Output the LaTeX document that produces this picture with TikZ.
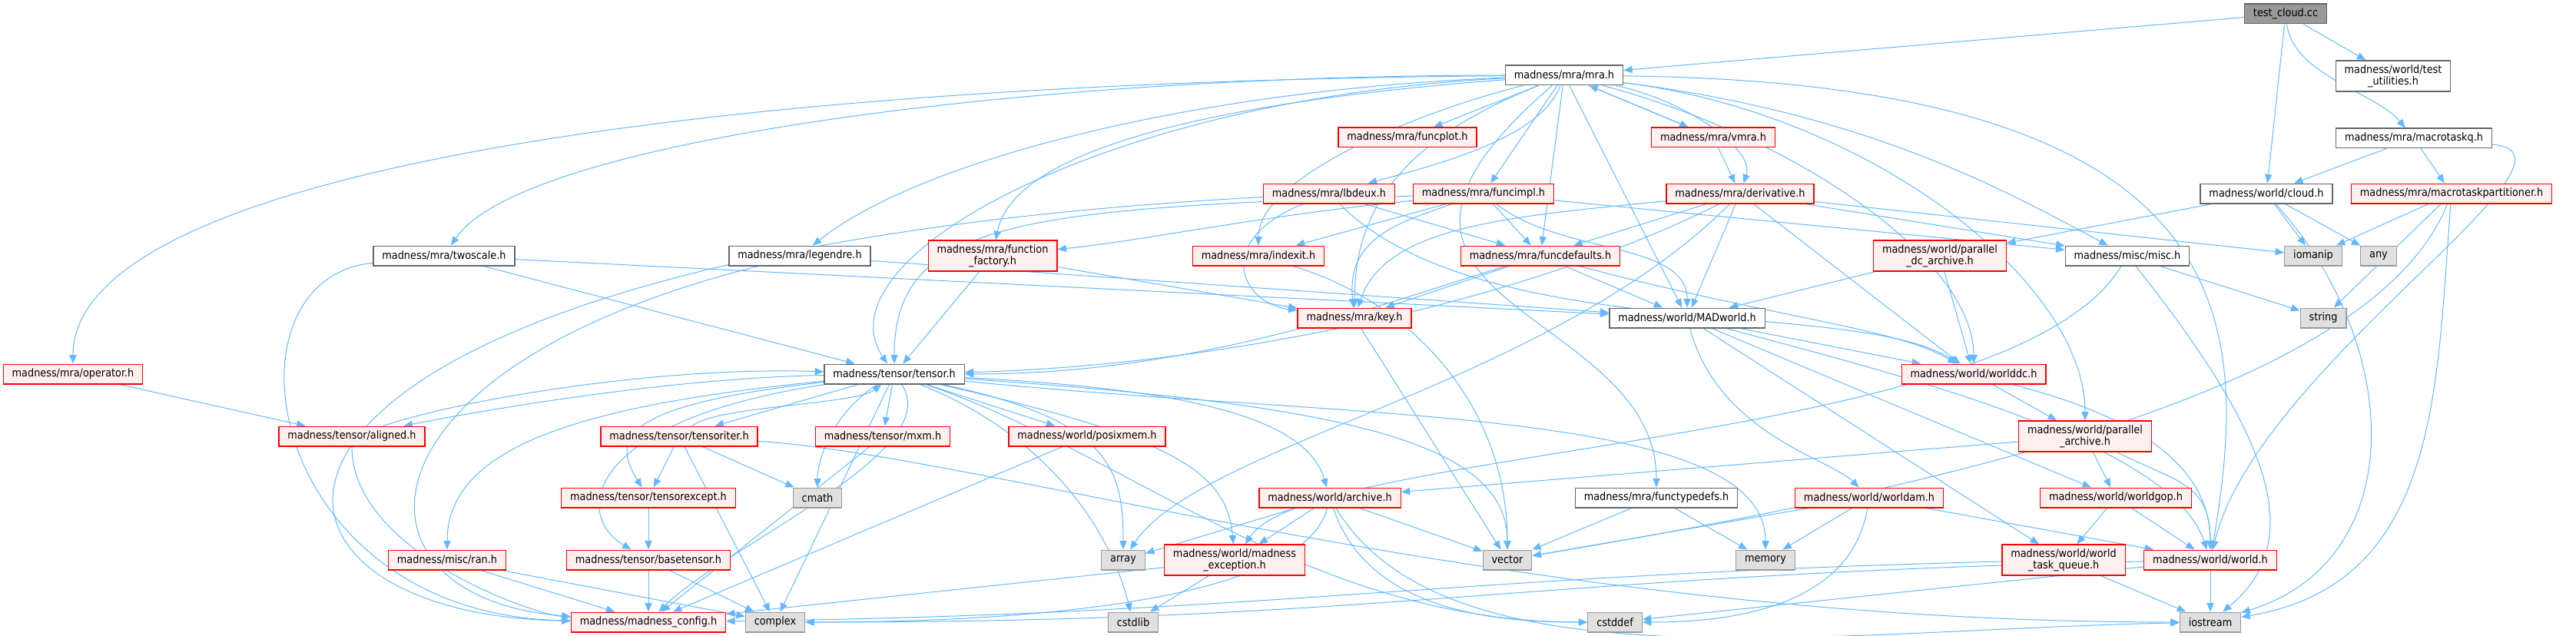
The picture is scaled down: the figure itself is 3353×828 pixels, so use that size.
\documentclass[tikz,border=0pt]{standalone}
\usepackage{fontspec}
\setmainfont{DejaVu Sans Condensed}
\usetikzlibrary{arrows.meta,backgrounds}
\definecolor{edgeblue}{RGB}{99,184,255}
\definecolor{truncfill}{RGB}{255,240,240}
\definecolor{sysfill}{RGB}{224,224,224}

\begin{document}
\begin{tikzpicture}[x=0.7pt, y=-0.7pt, font=\fontsize{10}{10.5}\selectfont,
      hdr/.style={draw=black!60, fill=white, line width=0.9pt, align=center,
                  minimum height=18pt, inner xsep=8pt, inner ysep=2pt},
      trunc/.style={hdr, draw=red, fill=truncfill},
      sys/.style={hdr, draw=black!40, fill=sysfill},
      root/.style={hdr, fill=black!40},
      two/.style={minimum height=28pt},
      arr/.style={-{Triangle[length=8pt, width=6.5pt]}, edgeblue, line width=0.7pt}]
    \useasboundingbox (0,0) rectangle (3353,828);
    % top rows
    \node[root] (testcloud) at (2975, 18) {test\_cloud.cc};
    \node[hdr] (mra) at (2036, 98) {madness/mra/mra.h};
    \node[hdr, two] (testutil) at (3115, 99) {madness/world/test\\\_utilities.h};
    \node[trunc] (funcplot) at (1832, 179) {madness/mra/funcplot.h};
    \node[trunc] (vmra) at (2230, 179) {madness/mra/vmra.h};
    \node[hdr] (macrotaskq) at (3142, 180) {madness/mra/macrotaskq.h};
    \node[trunc] (lbdeux) at (1730, 252) {madness/mra/lbdeux.h};
    \node[trunc] (funcimpl) at (1931, 252) {madness/mra/funcimpl.h};
    \node[trunc] (deriv) at (2265, 252) {madness/mra/derivative.h};
    \node[hdr] (cloud) at (2950, 252) {madness/world/cloud.h};
    \node[trunc] (mtpart) at (3191, 252) {madness/mra/macrotaskpartitioner.h};
    \node[hdr] (twoscale) at (578, 333) {madness/mra/twoscale.h};
    \node[hdr] (legendre) at (1041, 333) {madness/mra/legendre.h};
    \node[trunc, two] (funcfactory) at (1292, 333) {madness/mra/function\\\_factory.h};
    \node[trunc] (indexit) at (1638, 333) {madness/mra/indexit.h};
    \node[trunc] (funcdefaults) at (2005, 333) {madness/mra/funcdefaults.h};
    \node[trunc, two] (pdcarchive) at (2525, 333) {madness/world/parallel\\\_dc\_archive.h};
    \node[hdr] (misc) at (2769, 333) {madness/misc/misc.h};
    \node[sys] (iomanip) at (3011, 333) {iomanip};
    \node[sys] (any) at (3096, 333) {any};
    \node[trunc] (keyh) at (1763, 414) {madness/mra/key.h};
    \node[hdr] (madworld) at (2196, 414) {madness/world/MADworld.h};
    \node[sys] (stringh) at (3024, 414) {string};
    % tensor rows
    \node[trunc] (operatorh) at (95, 487) {madness/mra/operator.h};
    \node[hdr] (tensor) at (1164, 487) {madness/tensor/tensor.h};
    \node[trunc] (worlddc) at (2569, 487) {madness/world/worlddc.h};
    \node[trunc] (aligned) at (458, 568) {madness/tensor/aligned.h};
    \node[trunc] (tensoriter) at (884, 568) {madness/tensor/tensoriter.h};
    \node[trunc] (mxm) at (1149, 568) {madness/tensor/mxm.h};
    \node[trunc] (posixmem) at (1415, 568) {madness/world/posixmem.h};
    \node[trunc, two] (parchive) at (2714, 568) {madness/world/parallel\\\_archive.h};
    \node[trunc] (tensorexcept) at (844, 648) {madness/tensor/tensorexcept.h};
    \node[sys] (cmath) at (1064, 648) {cmath};
    \node[trunc] (archive) at (1731, 648) {madness/world/archive.h};
    \node[hdr] (functypedefs) at (2156, 648) {madness/mra/functypedefs.h};
    \node[trunc] (worldam) at (2433, 648) {madness/world/worldam.h};
    \node[trunc] (worldgop) at (2754, 648) {madness/world/worldgop.h};
    \node[trunc] (ran) at (582, 729) {madness/misc/ran.h};
    \node[trunc] (basetensor) at (844, 729) {madness/tensor/basetensor.h};
    \node[sys] (array) at (1462, 729) {array};
    \node[trunc, two] (mexception) at (1607, 729) {madness/world/madness\\\_exception.h};
    \node[sys] (vector) at (1962, 729) {vector};
    \node[sys] (memory) at (2298, 729) {memory};
    \node[trunc, two] (wtq) at (2686, 729) {madness/world/world\\\_task\_queue.h};
    \node[trunc] (world) at (2877, 729) {madness/world/world.h};
    \node[trunc] (config) at (844, 810) {madness/madness\_config.h};
    \node[sys] (complex) at (1009, 810) {complex};
    \node[sys] (cstdlib) at (1475, 810) {cstdlib};
    \node[sys] (cstddef) at (2102, 810) {cstddef};
    \node[sys] (iostream) at (2877, 810) {iostream};
    \begin{scope}[on background layer]
    % test_cloud.cc
    \draw[arr] (testcloud) -- (mra);
    \draw[arr] (testcloud) -- (testutil);
    \draw[arr] (testcloud) -- (cloud);
    \draw[arr] (testcloud) .. controls +(10,80) and +(-50,-60) .. (macrotaskq);
    % mra.h
    \draw[arr] (mra) .. controls +(-700,0) and +(100,-150) .. (twoscale);
    \draw[arr] (mra) .. controls +(-1200,10) and +(0,-250) .. (operatorh);
    \draw[arr] (mra) .. controls +(-500,20) and +(150,-120) .. (legendre);
    \draw[arr] (mra) .. controls +(-400,30) and +(30,-150) .. (funcfactory);
    \draw[arr] (mra) .. controls +(-30,80) and +(150,-40) .. (lbdeux);
    \draw[arr] (mra) -- (funcplot);
    \draw[arr] (mra) -- (funcimpl);
    \draw[arr] (mra) .. controls +(-200,50) and +(0,-100) .. (indexit);
    \draw[arr] (mra) -- (funcdefaults);
    \draw[arr] (mra) .. controls +(-200,80) and +(0,-150) .. (keyh);
    \draw[arr] (mra) -- (madworld);
    \draw[arr] (mra) -- (vmra);
    \draw[arr] (mra) .. controls +(150,30) and +(20,-60) .. (deriv);
    \draw[arr] (mra) .. controls +(-600,30) and +(-100,-150) .. (tensor);
    \draw[arr] (mra) .. controls +(400,50) and +(-150,-80) .. (misc);
    \draw[arr] (mra) .. controls +(300,80) and +(0,-150) .. (worlddc);
    \draw[arr] (mra) .. controls +(400,50) and +(0,-200) .. (parchive);
    \draw[arr] (mra) .. controls +(900,10) and +(50,-300) .. (world);
    \draw[arr] (mra) .. controls +(-350,300) and +(0,-250) .. (functypedefs);
    % mra sub-headers
    \draw[arr] (vmra) -- (mra);
    \draw[arr] (vmra) -- (deriv);
    \draw[arr] (deriv) -- (funcdefaults);
    \draw[arr] (deriv) .. controls +(-300,30) and +(40,-120) .. (keyh);
    \draw[arr] (deriv) -- (madworld);
    \draw[arr] (deriv) -- (worlddc);
    \draw[arr] (deriv) .. controls +(-300,150) and +(400,-10) .. (tensor);
    \draw[arr] (deriv) -- (misc);
    \draw[arr] (deriv) -- (iomanip);
    \draw[arr] (deriv) .. controls +(-250,250) and +(100,-150) .. (array);
    \draw[arr] (funcimpl) .. controls +(-300,30) and +(200,-20) .. (funcfactory);
    \draw[arr] (funcimpl) -- (indexit);
    \draw[arr] (funcimpl) -- (funcdefaults);
    \draw[arr] (funcimpl) .. controls +(-120,40) and +(-10,-100) .. (keyh);
    \draw[arr] (funcimpl) .. controls +(100,80) and +(0,-100) .. (madworld);
    \draw[arr] (funcimpl) .. controls +(-600,20) and +(0,-200) .. (tensor);
    \draw[arr] (funcimpl) -- (misc);
    \draw[arr] (lbdeux) -- (funcdefaults);
    \draw[arr] (lbdeux) .. controls +(-150,60) and +(-150,-20) .. (keyh);
    \draw[arr] (lbdeux) .. controls +(200,200) and +(-150,-100) .. (worlddc);
    \draw[arr] (lbdeux) .. controls +(-1500,80) and +(-600,-10) .. (config);
    \draw[arr] (funcfactory) -- (tensor);
    \draw[arr] (funcfactory) -- (keyh);
    \draw[arr] (funcdefaults) -- (keyh);
    \draw[arr] (funcdefaults) -- (madworld);
    \draw[arr] (funcdefaults) .. controls +(-200,60) and +(400,0) .. (tensor);
    \draw[arr] (funcdefaults) .. controls +(300,80) and +(-100,-60) .. (worlddc);
    \draw[arr] (twoscale) .. controls +(-300,30) and +(-500,-10) .. (config);
    \draw[arr] (twoscale) -- (tensor);
    \draw[arr] (twoscale) -- (madworld);
    \draw[arr] (legendre) .. controls +(-600,150) and +(-400,-30) .. (config);
    \draw[arr] (legendre) -- (madworld);
    \draw[arr] (indexit) .. controls +(200,60) and +(0,-200) .. (vector);
    \draw[arr] (keyh) -- (vector);
    \draw[arr] (operatorh) -- (aligned);
    % world headers
    \draw[arr] (madworld) -- (worlddc);
    \draw[arr] (madworld) .. controls +(40,150) and +(-50,-50) .. (worldam);
    \draw[arr] (madworld) -- (worldgop);
    \draw[arr] (madworld) -- (wtq);
    \draw[arr] (madworld) .. controls +(300,80) and +(-50,-150) .. (world);
    \draw[arr] (pdcarchive) -- (madworld);
    \draw[arr] (pdcarchive) -- (worlddc);
    \draw[arr] (worlddc) -- (parchive);
    \draw[arr] (worlddc) .. controls +(150,40) and +(0,-150) .. (world);
    \draw[arr] (parchive) -- (archive);
    \draw[arr] (parchive) -- (worldgop);
    \draw[arr] (parchive) .. controls +(120,60) and +(0,-100) .. (world);
    \draw[arr] (worldgop) -- (wtq);
    \draw[arr] (worldgop) -- (world);
    \draw[arr] (wtq) -- (iostream);
    \draw[arr] (wtq) .. controls +(-800,20) and +(800,-10) .. (config);
    \draw[arr] (world) -- (iostream);
    \draw[arr] (world) -- (cstddef);
    \draw[arr] (world) .. controls +(-900,20) and +(800,0) .. (complex);
    \draw[arr] (worldam) -- (vector);
    \draw[arr] (worldam) -- (memory);
    \draw[arr] (worldam) .. controls +(-20,120) and +(200,0) .. (cstddef);
    \draw[arr] (worldam) -- (world);
    \draw[arr] (archive) -- (array);
    \draw[arr] (archive) -- (vector);
    \draw[arr] (archive) -- (mexception);
    \draw[arr] (archive) .. controls +(50,150) and +(-150,0) .. (cstddef);
    \draw[arr] (archive) .. controls +(150,250) and +(-500,10) .. (iostream);
    \draw[arr] (archive) .. controls +(-30,120) and +(400,0) .. (complex);
    \draw[arr] (functypedefs) -- (vector);
    \draw[arr] (functypedefs) -- (memory);
    \draw[arr] (mexception) -- (cstdlib);
    \draw[arr] (mexception) -- (config);
    \draw[arr] (misc) -- (stringh);
    \draw[arr] (misc) .. controls +(200,250) and +(120,-100) .. (iostream);
    \draw[arr] (misc) .. controls +(-150,250) and +(100,-150) .. (mexception);
    \draw[arr] (cloud) -- (pdcarchive);
    \draw[arr] (cloud) -- (iomanip);
    \draw[arr] (cloud) -- (any);
    \draw[arr] (cloud) .. controls +(180,200) and +(260,-80) .. (iostream);
    \draw[arr] (macrotaskq) -- (cloud);
    \draw[arr] (macrotaskq) -- (mtpart);
    \draw[arr] (macrotaskq) .. controls +(250,20) and +(60,-250) .. (world);
    \draw[arr] (mtpart) -- (iomanip);
    \draw[arr] (mtpart) -- (stringh);
    \draw[arr] (mtpart) .. controls +(-20,250) and +(300,-50) .. (iostream);
    \draw[arr] (mtpart) .. controls +(-100,250) and +(600,-100) .. (vector);
    % tensor headers
    \draw[arr] (tensor) .. controls +(-300,5) and +(150,-30) .. (aligned);
    \draw[arr] (aligned) .. controls +(150,-50) and +(-300,-10) .. (tensor);
    \draw[arr] (aligned) .. controls +(0,150) and +(-150,-10) .. (config);
    \draw[arr] (tensor) -- (tensoriter);
    \draw[arr] (tensoriter) .. controls +(50,-40) and +(-50,40) .. (tensor);
    \draw[arr] (tensor) -- (mxm);
    \draw[arr] (tensor) -- (posixmem);
    \draw[arr] (tensor) .. controls +(-80,50) and +(0,-50) .. (cmath);
    \draw[arr] (tensor) .. controls +(-400,40) and +(0,-150) .. (ran);
    \draw[arr] (tensor) .. controls +(-350,40) and +(-50,-80) .. (tensorexcept);
    \draw[arr] (tensor) .. controls +(-400,60) and +(-100,-60) .. (basetensor);
    \draw[arr] (tensor) .. controls +(70,100) and +(100,-100) .. (config);
    \draw[arr] (tensor) -- (complex);
    \draw[arr] (tensor) .. controls +(280,60) and +(0,-120) .. (array);
    \draw[arr] (tensor) .. controls +(600,40) and +(0,-150) .. (vector);
    \draw[arr] (tensor) .. controls +(600,60) and +(0,-200) .. (memory);
    \draw[arr] (tensor) .. controls +(200,80) and +(-30,-120) .. (cstdlib);
    \draw[arr] (tensor) .. controls +(300,100) and +(-400,0) .. (cstddef);
    \draw[arr] (tensor) .. controls +(400,20) and +(-30,-100) .. (archive);
    \draw[arr] (tensor) .. controls +(350,80) and +(-10,-120) .. (mexception);
    \draw[arr] (tensoriter) -- (tensorexcept);
    \draw[arr] (tensoriter) -- (cmath);
    \draw[arr] (tensoriter) -- (complex);
    \draw[arr] (tensoriter) .. controls +(400,25) and +(-900,0) .. (iostream);
    \draw[arr] (tensorexcept) -- (basetensor);
    \draw[arr] (basetensor) -- (config);
    \draw[arr] (basetensor) -- (complex);
    \draw[arr] (ran) -- (config);
    \draw[arr] (ran) -- (complex);
    \draw[arr] (mxm) -- (config);
    \draw[arr] (posixmem) -- (config);
    \end{scope}
\end{tikzpicture}
\end{document}
